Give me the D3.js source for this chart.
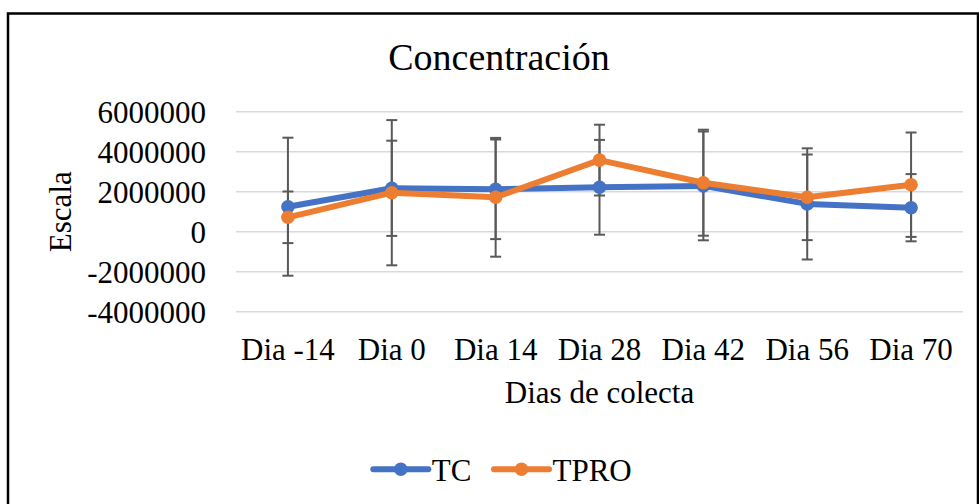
<!DOCTYPE html>
<html>
<head>
<meta charset="utf-8">
<script src="https://cdn.jsdelivr.net/npm/d3@7"></script>
<style>
  html, body { margin: 0; padding: 0; background: #fff; }
  svg { display: block; }
  text { font-family: "Liberation Serif", "Times New Roman", serif; fill: #000; }
</style>
</head>
<body>
<svg id="chart" width="979" height="504"></svg>
<script>
// ---- data ----
const categories = ["Dia -14", "Dia 0", "Dia 14", "Dia 28", "Dia 42", "Dia 56", "Dia 70"];
const seriesNames = ["TC", "TPRO"];
const tcValues   = [1250000, 2170000, 2120000, 2220000, 2290000, 1390000, 1200000];
const tcErrors   = [3450000, 2380000, 2490000, 2370000, 2720000, 2780000, 1680000];
const tproValues = [720000, 1950000, 1720000, 3580000, 2450000, 1720000, 2350000];
const tproErrors = [1290000, 3630000, 2970000, 1770000, 2650000, 2140000, 2610000];
const yTicks = [-4000000, -2000000, 0, 2000000, 4000000, 6000000];
const titleText = "Concentración";
const xTitle = "Dias de colecta";
const yTitle = "Escala";

const colors = { TC: "#4472C4", TPRO: "#ED7D31" };
const series = [
  { name: seriesNames[0], values: tcValues, errors: tcErrors },
  { name: seriesNames[1], values: tproValues, errors: tproErrors }
];

// ---- layout ----
const svg = d3.select("#chart");
const plot = { left: 236, right: 963, top: 111.7, bottom: 311.7 };
const FONT = 31;

// border
svg.append("rect")
  .attr("x", 8).attr("y", 13.5)
  .attr("width", 970).attr("height", 600)
  .attr("fill", "none").attr("stroke", "#000").attr("stroke-width", 2.5);

const x = d3.scaleBand().domain(categories).range([plot.left, plot.right]).padding(0);
const cx = c => x(c) + x.bandwidth() / 2;
const y = d3.scaleLinear().domain([-4000000, 6000000]).range([plot.bottom, plot.top]);

// gridlines
svg.append("g").selectAll("line").data(yTicks).join("line")
  .attr("x1", plot.left).attr("x2", plot.right)
  .attr("y1", d => y(d)).attr("y2", d => y(d))
  .attr("stroke", "#d9d9d9").attr("stroke-width", 1.5);

// y axis labels via d3 axis
const yAxis = d3.axisLeft(y).tickValues(yTicks).tickFormat(d => String(d)).tickSize(0).tickPadding(0);
const yg = svg.append("g").attr("transform", "translate(206,0)").call(yAxis);
yg.select(".domain").remove();
yg.selectAll("text")
  .attr("font-family", "Liberation Serif, Times New Roman, serif")
  .attr("font-size", FONT).attr("fill", "#000").attr("dy", "0.34em");

// x axis labels
const xAxis = d3.axisBottom(x).tickSize(0).tickPadding(0);
const xg = svg.append("g").call(xAxis);
xg.select(".domain").remove();
xg.selectAll("text")
  .attr("font-family", "Liberation Serif, Times New Roman, serif")
  .attr("font-size", FONT).attr("fill", "#000")
  .attr("y", 359.5).attr("dy", 0);

// title
svg.append("text").attr("x", 499).attr("y", 70)
  .attr("text-anchor", "middle").attr("font-size", 38).text(titleText);

// axis titles
svg.append("text").attr("x", 599.5).attr("y", 403)
  .attr("text-anchor", "middle").attr("font-size", FONT).text(xTitle);
svg.append("text")
  .attr("transform", "translate(70.5,211.7) rotate(-90)")
  .attr("text-anchor", "middle").attr("font-size", FONT).text(yTitle);

// error bars
const eb = svg.append("g");
series.forEach(s => {
  s.values.forEach((v, i) => {
    const xc = cx(categories[i]);
    const hi = y(v + s.errors[i]), lo = y(v - s.errors[i]);
    eb.append("line").attr("x1", xc).attr("x2", xc).attr("y1", hi).attr("y2", lo)
      .attr("stroke", "#595959").attr("stroke-width", 2);
    [hi, lo].forEach(yy => eb.append("line")
      .attr("x1", xc - 5.5).attr("x2", xc + 5.5).attr("y1", yy).attr("y2", yy)
      .attr("stroke", "#595959").attr("stroke-width", 2));
  });
});

// lines and markers
const line = d3.line().x((d, i) => cx(categories[i])).y(d => y(d));
series.forEach(s => {
  const g = svg.append("g");
  g.append("path").datum(s.values).attr("d", line)
    .attr("fill", "none").attr("stroke", colors[s.name])
    .attr("stroke-width", 6).attr("stroke-linejoin", "round").attr("stroke-linecap", "round");
  g.selectAll("circle").data(s.values).join("circle")
    .attr("cx", (d, i) => cx(categories[i])).attr("cy", d => y(d))
    .attr("r", 6.8).attr("fill", colors[s.name]);
});

// legend
const legendItems = [
  { name: seriesNames[0], x0: 373.3 },
  { name: seriesNames[1], x0: 494 }
];
const lg = svg.append("g");
legendItems.forEach(it => {
  const ly = 469.3;
  lg.append("line").attr("x1", it.x0).attr("x2", it.x0 + 55).attr("y1", ly).attr("y2", ly)
    .attr("stroke", colors[it.name]).attr("stroke-width", 6).attr("stroke-linecap", "round");
  lg.append("circle").attr("cx", it.x0 + 27.5).attr("cy", ly).attr("r", 6.8).attr("fill", colors[it.name]);
  lg.append("text").attr("x", it.x0 + 58.5).attr("y", 480.7)
    .attr("font-size", FONT).text(it.name);
});
</script>
</body>
</html>
